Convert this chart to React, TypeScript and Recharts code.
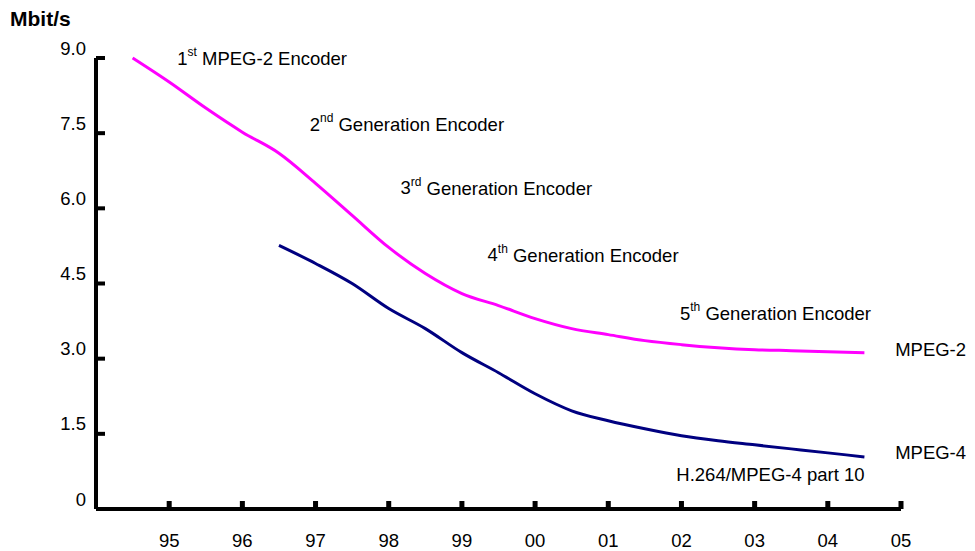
import { Line, LineChart, ReferenceDot, XAxis, YAxis } from "recharts";

const years = [
	94.5, 95, 95.5, 96, 96.5, 97, 97.5, 98, 98.5, 99, 99.5, 100, 100.5, 101,
	101.5, 102, 102.5, 103, 103.5, 104, 104.5,
];
const mpeg2 = [
	9.0, 8.52, 8.0, 7.52, 7.1, 6.5, 5.86, 5.22, 4.7, 4.3, 4.06, 3.8, 3.6, 3.48,
	3.36, 3.28, 3.22, 3.18, 3.16, 3.14, 3.12,
];
const mpeg4 = [
	null, null, null, null, 5.26, 4.9, 4.5, 4.0, 3.6, 3.12, 2.72, 2.3, 1.96,
	1.76, 1.6, 1.46, 1.36, 1.28, 1.2, 1.12, 1.04,
];
const xTicks = [95, 96, 97, 98, 99, 100, 101, 102, 103, 104, 105];
const yTicks = [0, 1.5, 3.0, 4.5, 6.0, 7.5, 9.0];

// text notes: [main, superscript, rest, x (year), y (Mbit/s)]
const notes: [string, string, string, number, number][] = [
	["1", "st", " MPEG-2 Encoder", 95.11, 9.0],
	["2", "nd", " Generation Encoder", 96.92, 7.68],
	["3", "rd", " Generation Encoder", 98.16, 6.41],
	["4", "th", " Generation Encoder", 99.35, 5.07],
	["5", "th", " Generation Encoder", 101.98, 3.91],
	["MPEG-2", "", "", 104.92, 3.19],
	["MPEG-4", "", "", 104.92, 1.12],
	["H.264/MPEG-4 part 10", "", "", 101.93, 0.68],
];

const data = years.map((year, i) => ({
	year,
	mpeg2: mpeg2[i],
	mpeg4: mpeg4[i],
}));

const FONT = "'Liberation Sans', Arial, Helvetica, sans-serif";
const SIZE = 18.5;

function NoteText({ viewBox, note }: { viewBox?: any; note: (typeof notes)[number] }) {
	if (!viewBox) return null;
	const [main, sup, rest] = note;
	return (
		<text
			x={viewBox.x}
			y={viewBox.y}
			dominantBaseline="central"
			fontFamily={FONT}
			fontSize={SIZE}
			fill="#000"
		>
			{main}
			{sup && (
				<tspan fontSize={12} dy={-6}>
					{sup}
				</tspan>
			)}
			{sup && <tspan dy={6}>{rest}</tspan>}
		</text>
	);
}

// ticks point inward, drawn together with the label
function XTick(props: any) {
	const { x, y, payload } = props;
	const v = Math.round(payload.value) % 100;
	return (
		<g>
			<rect x={x - 2.5} y={y - 39} width={5} height={8} fill="#000" />
			<text
				x={x}
				y={y}
				textAnchor="middle"
				dominantBaseline="central"
				fontFamily={FONT}
				fontSize={SIZE}
				fill="#000"
			>
				{String(v).padStart(2, "0")}
			</text>
		</g>
	);
}

function YTick(props: any) {
	const { x, y, payload } = props;
	return (
		<g>
			<rect x={x + 10} y={y - 2} width={9} height={4} fill="#000" />
			<text
				x={x}
				y={y - 10}
				textAnchor="end"
				dominantBaseline="central"
				fontFamily={FONT}
				fontSize={SIZE}
				fill="#000"
			>
				{payload.value === 0 ? "0" : payload.value.toFixed(1)}
			</text>
		</g>
	);
}

export default function App() {
	return (
		<div style={{ position: "absolute", left: 0, top: 0, background: "#fff" }}>
			<LineChart
				width={975}
				height={551}
				data={data}
				margin={{ top: 58, right: 74, left: 36, bottom: 0 }}
			>
				<XAxis
					dataKey="year"
					type="number"
					domain={[94, 105]}
					ticks={xTicks}
					height={42}
					tickSize={-6}
					tickMargin={37}
					axisLine={{ stroke: "#000", strokeWidth: 4 }}
					tickLine={false}
					tick={<XTick />}
					allowDataOverflow
				/>
				<YAxis
					type="number"
					domain={[0, 9]}
					ticks={yTicks}
					width={60}
					tickSize={-6}
					tickMargin={16}
					axisLine={{ stroke: "#000", strokeWidth: 4 }}
					tickLine={false}
					tick={<YTick />}
					label={{
						content: () => (
							<text
								x={10}
								y={18}
								dominantBaseline="central"
								fontFamily={FONT}
								fontSize={21}
								fontWeight="bold"
								fill="#000"
							>
								Mbit/s
							</text>
						),
					}}
				/>
				<Line
					type="monotone"
					dataKey="mpeg2"
					stroke="#ff00ff"
					strokeWidth={3}
					dot={false}
					isAnimationActive={false}
				/>
				<Line
					type="monotone"
					dataKey="mpeg4"
					stroke="#000080"
					strokeWidth={3}
					dot={false}
					isAnimationActive={false}
				/>
				{notes.map((note) => (
					<ReferenceDot
						key={note[0] + note[2]}
						x={note[3]}
						y={note[4]}
						r={0}
						fill="none"
						stroke="none"
						label={(props: any) => <NoteText viewBox={props.viewBox} note={note} />}
					/>
				))}
			</LineChart>
		</div>
	);
}
